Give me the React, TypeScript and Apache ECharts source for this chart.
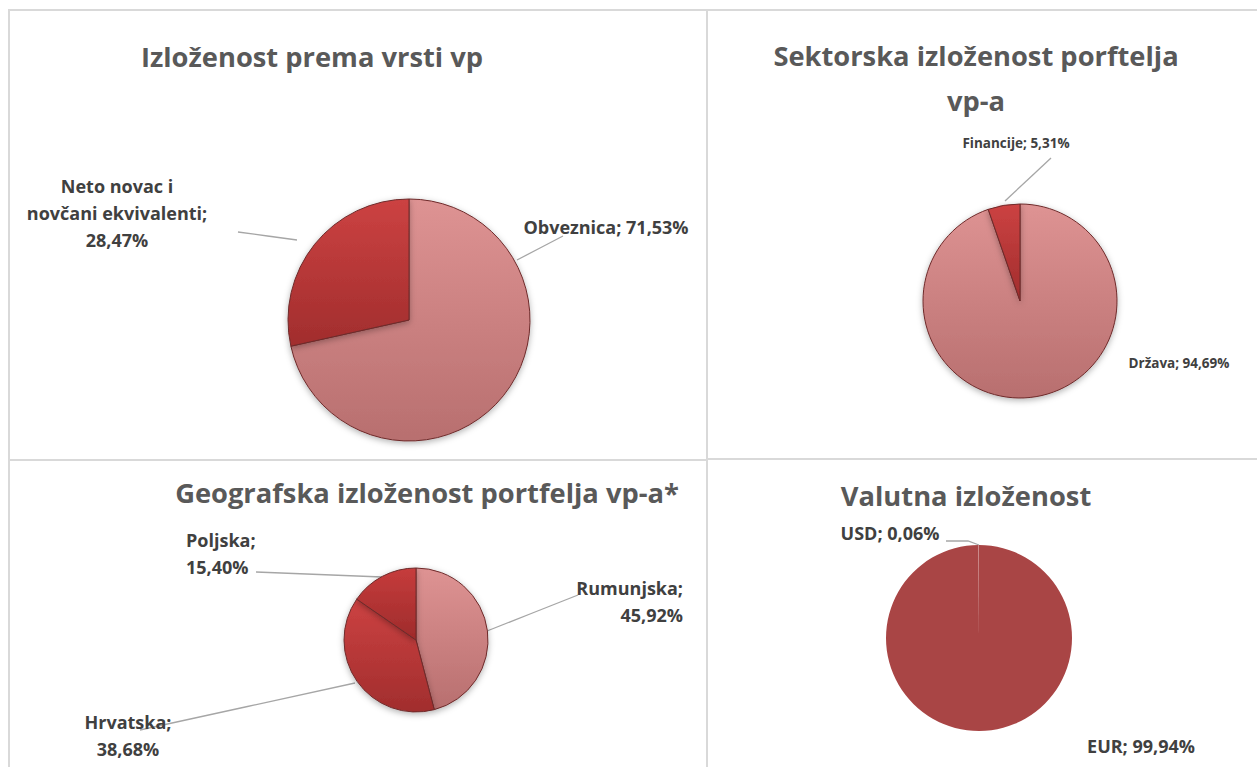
import React, { useEffect, useRef } from "react";
import * as echarts from "echarts";

const titles = [
  "Izloženost prema vrsti vp",
  "Sektorska izloženost porftelja\nvp-a",
  "Geografska izloženost portfelja vp-a*",
  "Valutna izloženost",
];

const typeNames = ["Obveznica", "Neto novac i\nnovčani ekvivalenti"];
const typeValues = [71.53, 28.47];

const sectorNames = ["Država", "Financije"];
const sectorValues = [94.69, 5.31];

const geoNames = ["Rumunjska", "Hrvatska", "Poljska"];
const geoValues = [45.92, 38.68, 15.4];

const currencyNames = ["EUR", "USD"];
const currencyValues = [99.94, 0.06];

const FONT = "'Open Sans', 'Noto Sans', sans-serif";
const TXT = "#404040";

const fmt = (v: number) => v.toFixed(2).replace(".", ",") + "%";

const grad = (a: string, b: string) => ({
  type: "linear",
  x: 0,
  y: 0,
  x2: 0,
  y2: 1,
  colorStops: [
    { offset: 0, color: a },
    { offset: 1, color: b },
  ],
});

const PINK = grad("#DE9393", "#B86F6F");
const RED = grad("#CC4242", "#A12D2D");
const RED2 = grad("#C63C3C", "#9E2B2B");

const mid = (a: number[], b: number[]) => [a, [(a[0] + b[0]) / 2, (a[1] + b[1]) / 2], b];

export default function App() {
  const ref = useRef<HTMLDivElement>(null);
  useEffect(() => {
    if (!ref.current) return;
    const chart = echarts.init(ref.current, undefined, { renderer: "svg" });

    const baseSeries = (
      center: [number, number],
      radius: number,
      names: string[],
      values: number[],
      colors: any[],
      texts: string[],
      layouts: any[],
      fontSize: number,
      noLine: boolean[],
      flat?: boolean
    ) => ({
      type: "pie",
      center,
      radius,
      startAngle: 90,
      clockwise: true,
      silent: true,
      data: names.map((n, i) => ({
        name: n,
        value: values[i],
        itemStyle: { color: colors[i] },
        label: { formatter: texts[i] },
        labelLine: { show: !noLine[i] },
      })),
      itemStyle: flat
        ? { borderWidth: 0 }
        : {
            borderColor: "#6e2a2a",
            borderWidth: 1,
            shadowBlur: 6,
            shadowOffsetY: 2,
            shadowColor: "rgba(0,0,0,0.3)",
          },
      label: {
        show: true,
        color: TXT,
        fontFamily: FONT,
        fontWeight: "bold",
        fontSize,
        lineHeight: 27,
      },
      labelLine: {
        show: true,
        length: 10,
        length2: 0,
        smooth: false,
        lineStyle: { color: "#a6a6a6", width: 1.3 },
      },
      labelLayout: (p: any) => layouts[p.dataIndex],
    });

    const txt1 = typeNames.map((n, i) =>
      i === 1 ? `${n};\n${fmt(typeValues[i])}` : `${n}; ${fmt(typeValues[i])}`
    );
    const txt2 = sectorNames.map((n, i) => `${n}; ${fmt(sectorValues[i])}`);
    const txt3 = geoNames.map((n, i) => `${n};\n${fmt(geoValues[i])}`);
    const txt4 = currencyNames.map((n, i) => `${n}; ${fmt(currencyValues[i])}`);

    const borderStyle = { stroke: "#d9d9d9", lineWidth: 2, fill: "none" };
    const titleStyle = (text: string) => ({
      text,
      textAlign: "center",
      textVerticalAlign: "middle",
      font: `bold 27.3px ${FONT}`,
      fill: "#595959",
      lineHeight: 45,
    });

    chart.setOption({
      animation: false,
      backgroundColor: "#ffffff",
      graphic: [
        { type: "rect", shape: { x: 9, y: 10, width: 698, height: 450 }, style: borderStyle, silent: true },
        { type: "rect", shape: { x: 707, y: 10, width: 560, height: 449 }, style: borderStyle, silent: true },
        { type: "rect", shape: { x: 9, y: 460, width: 698, height: 320 }, style: borderStyle, silent: true },
        { type: "rect", shape: { x: 707, y: 459, width: 560, height: 320 }, style: borderStyle, silent: true },
        { type: "text", x: 312, y: 56, style: titleStyle(titles[0]) },
        { type: "text", x: 976, y: 78, style: titleStyle(titles[1]) },
        { type: "text", x: 427, y: 492, style: titleStyle(titles[2]) },
        { type: "text", x: 966, y: 495, style: titleStyle(titles[3]) },
      ],
      series: [
        baseSeries(
          [409, 320],
          121,
          typeNames,
          typeValues,
          [PINK, RED],
          txt1,
          [
            { x: 606, y: 227, align: "center", verticalAlign: "middle", labelLinePoints: mid([517, 260], [563, 236]) },
            { x: 117, y: 213, align: "center", verticalAlign: "middle", labelLinePoints: mid([297, 240], [238, 232]) },
          ],
          18,
          [false, false]
        ),
        baseSeries(
          [1020, 301],
          97,
          sectorNames,
          sectorValues,
          [PINK, RED],
          txt2,
          [
            { x: 1179, y: 363, align: "center", verticalAlign: "middle" },
            { x: 1016, y: 143, align: "center", verticalAlign: "middle", labelLinePoints: mid([1005, 201], [1051, 158]) },
          ],
          13.5,
          [true, false]
        ),
        baseSeries(
          [416, 640],
          72,
          geoNames,
          geoValues,
          [PINK, RED, RED2],
          txt3,
          [
            { x: 683, y: 601, align: "right", verticalAlign: "middle", labelLinePoints: mid([487, 631], [578, 595]) },
            { x: 128, y: 735, align: "center", verticalAlign: "middle", labelLinePoints: mid([355, 683], [140, 730]) },
            { x: 186, y: 553, align: "left", verticalAlign: "middle", labelLinePoints: mid([256, 572], [382, 577]) },
          ],
          18,
          [false, false, false]
        ),
        baseSeries(
          [979, 638],
          93,
          currencyNames,
          currencyValues,
          ["#A94545", "#D9A0A0"],
          txt4,
          [
            { x: 1141, y: 746, align: "center", verticalAlign: "middle" },
            { x: 890, y: 533, align: "center", verticalAlign: "middle", labelLinePoints: [[946, 541], [968, 541], [979, 545]] },
          ],
          18,
          [true, false],
          true
        ),
      ],
    });
    return () => chart.dispose();
  }, []);
  return (
    <div
      ref={ref}
      style={{ position: "fixed", left: 0, top: 0, width: 1257, height: 767 }}
    />
  );
}
